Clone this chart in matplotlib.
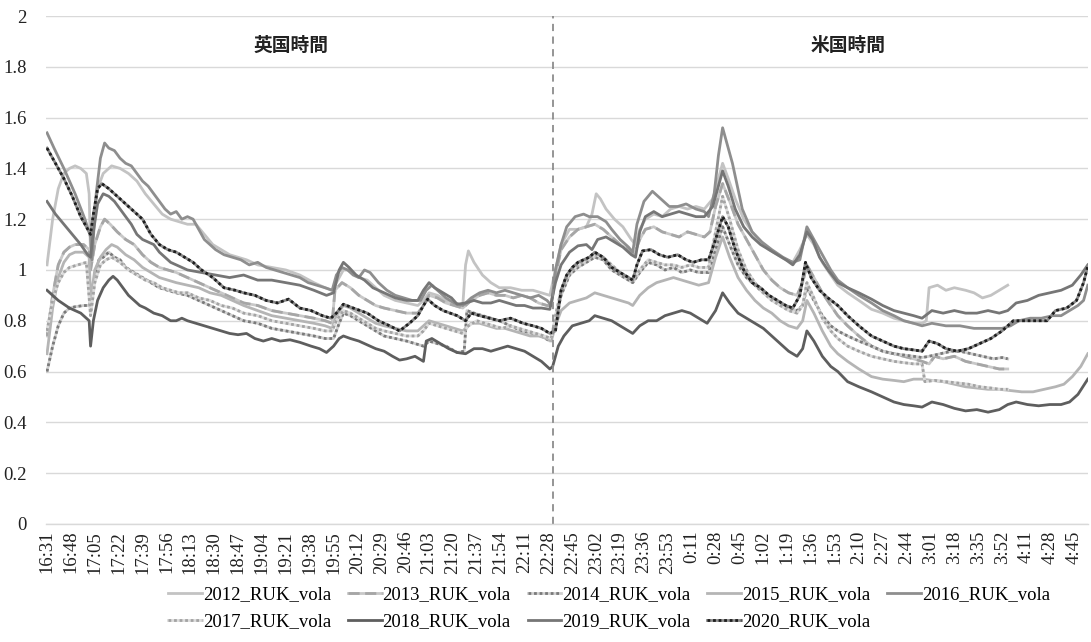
import matplotlib
matplotlib.use("Agg")
import matplotlib.pyplot as plt
import numpy as np

plt.rcParams['font.family'] = ['Liberation Serif', 'Noto Sans CJK JP', 'DejaVu Sans']

# category labels (one label every 17 minute bars)
tick_labels = ["16:31", "16:48", "17:05", "17:22", "17:39", "17:56", "18:13", "18:30",
               "18:47", "19:04", "19:21", "19:38", "19:55", "20:12", "20:29", "20:46",
               "21:03", "21:20", "21:37", "21:54", "22:11", "22:28", "22:45", "23:02",
               "23:19", "23:36", "23:53", "0:11", "0:28", "0:45", "1:02", "1:19",
               "1:36", "1:53", "2:10", "2:27", "2:44", "3:01", "3:18", "3:35",
               "3:52", "4:11", "4:28", "4:45"]
tick_step = 17
n_bars = 742
split_bar = 360   # UK / US session border

# (bar index, vola)
vola_2012 = [(0, 1.02), (4, 1.20), (8, 1.32), (12, 1.38), (16, 1.40), (20, 1.41), (24, 1.40), (28, 1.38),
             (30, 1.30), (31, 1.05), (33, 1.20), (36, 1.32), (40, 1.38), (46, 1.41), (52, 1.40), (58, 1.38),
             (64, 1.35), (70, 1.30), (76, 1.26), (82, 1.22), (88, 1.20), (94, 1.19), (100, 1.18), (106, 1.18),
             (112, 1.14), (118, 1.10), (124, 1.08), (130, 1.06), (136, 1.05), (142, 1.04), (150, 1.02),
             (160, 1.01), (170, 1.00), (180, 0.98), (190, 0.95), (198, 0.93), (203, 0.92), (206, 0.95),
             (211, 1.00), (216, 1.00), (222, 0.97), (228, 0.96), (234, 0.93), (240, 0.90), (248, 0.88),
             (256, 0.87), (264, 0.86), (268, 0.88), (272, 0.91), (278, 0.90), (284, 0.88), (290, 0.87),
             (296, 0.86), (298, 1.02), (300, 1.075), (304, 1.03), (310, 0.98), (316, 0.95), (322, 0.93),
             (330, 0.93), (338, 0.92), (346, 0.92), (352, 0.91), (358, 0.90), (362, 1.00), (366, 1.10),
             (372, 1.16), (378, 1.16), (384, 1.17), (388, 1.22), (391, 1.30), (394, 1.28), (398, 1.24),
             (404, 1.20), (410, 1.17), (416, 1.12), (419, 1.10), (422, 1.16), (426, 1.20), (432, 1.22),
             (438, 1.21), (444, 1.24), (450, 1.25), (456, 1.24), (462, 1.25), (468, 1.24), (474, 1.28),
             (478, 1.36), (481, 1.42), (485, 1.36), (490, 1.28), (496, 1.20), (502, 1.15), (508, 1.11),
             (514, 1.08), (520, 1.06), (526, 1.04), (531, 1.03), (536, 1.08), (541, 1.14), (546, 1.10),
             (552, 1.03), (558, 0.98), (563, 0.94), (570, 0.91), (578, 0.88), (587, 0.845), (595, 0.83),
             (603, 0.81), (610, 0.80), (617, 0.79), (623, 0.79), (626, 0.80), (628, 0.93), (634, 0.94),
             (640, 0.92), (646, 0.93), (654, 0.92), (660, 0.91), (666, 0.89), (672, 0.90), (678, 0.92),
             (684, 0.94)]

vola_2013 = [(0, 0.74), (4, 0.90), (8, 1.02), (12, 1.07), (16, 1.09), (20, 1.10), (26, 1.10), (30, 1.08),
             (31, 1.00), (34, 1.10), (38, 1.17), (41, 1.20), (45, 1.18), (50, 1.15), (56, 1.12), (62, 1.10),
             (68, 1.06), (74, 1.03), (80, 1.01), (86, 1.00), (92, 0.99), (100, 0.97), (108, 0.95), (116, 0.93),
             (124, 0.91), (132, 0.89), (140, 0.87), (150, 0.86), (160, 0.84), (170, 0.83), (180, 0.82),
             (190, 0.81), (198, 0.80), (203, 0.79), (205, 0.92), (210, 0.95), (216, 0.93), (222, 0.90),
             (228, 0.88), (234, 0.86), (240, 0.85), (248, 0.84), (256, 0.83), (264, 0.83), (268, 0.86),
             (272, 0.90), (278, 0.89), (284, 0.87), (290, 0.86), (296, 0.85), (302, 0.88), (308, 0.90),
             (314, 0.91), (320, 0.90), (326, 0.90), (332, 0.89), (338, 0.90), (344, 0.89), (350, 0.87),
             (356, 0.86), (359, 0.86), (362, 0.98), (366, 1.08), (372, 1.13), (378, 1.16), (384, 1.17),
             (390, 1.18), (396, 1.16), (402, 1.13), (408, 1.10), (414, 1.08), (418, 1.06), (422, 1.12),
             (426, 1.16), (432, 1.17), (438, 1.15), (444, 1.14), (450, 1.13), (456, 1.15), (462, 1.14),
             (468, 1.13), (472, 1.15), (476, 1.25), (481, 1.34), (486, 1.27), (492, 1.18), (498, 1.12),
             (504, 1.06), (510, 1.00), (516, 0.96), (522, 0.93), (528, 0.91), (534, 0.90), (538, 0.95),
             (541, 1.02), (546, 0.97), (552, 0.91), (558, 0.86), (563, 0.82), (570, 0.78), (578, 0.74),
             (587, 0.70), (595, 0.68), (603, 0.67), (610, 0.66), (617, 0.65), (623, 0.64), (628, 0.63),
             (632, 0.66), (638, 0.65), (646, 0.66), (654, 0.64), (662, 0.63), (670, 0.62), (678, 0.61),
             (684, 0.61)]

vola_2014 = [(0, 0.60), (4, 0.70), (8, 0.78), (12, 0.83), (16, 0.85), (20, 0.855), (26, 0.86), (30, 0.86),
             (32, 0.90), (34, 0.98), (37, 1.04), (40, 1.05), (44, 1.07), (48, 1.05), (52, 1.04), (56, 1.01),
             (62, 0.99), (68, 0.97), (74, 0.95), (80, 0.93), (86, 0.92), (92, 0.91), (100, 0.90), (108, 0.88),
             (116, 0.86), (124, 0.84), (132, 0.82), (140, 0.80), (150, 0.79), (160, 0.77), (170, 0.76),
             (180, 0.75), (190, 0.74), (198, 0.73), (204, 0.73), (208, 0.79), (211, 0.83), (216, 0.82),
             (222, 0.80), (228, 0.78), (234, 0.76), (240, 0.74), (248, 0.73), (256, 0.72), (262, 0.71),
             (268, 0.70), (272, 0.72), (278, 0.71), (284, 0.70), (292, 0.675), (297, 0.68), (299, 0.84),
             (304, 0.83), (310, 0.82), (316, 0.81), (322, 0.80), (330, 0.78), (338, 0.76), (346, 0.75),
             (352, 0.74), (358, 0.72), (362, 0.80), (366, 0.90), (372, 0.98), (378, 1.01), (384, 1.03),
             (390, 1.05), (396, 1.04), (402, 1.00), (408, 0.98), (414, 0.96), (417, 0.95), (422, 0.99),
             (428, 1.03), (434, 1.02), (440, 1.00), (446, 1.01), (452, 0.99), (458, 1.00), (464, 0.99),
             (471, 0.99), (476, 1.08), (481, 1.17), (486, 1.10), (492, 1.02), (498, 0.97), (504, 0.94),
             (510, 0.91), (516, 0.89), (522, 0.87), (528, 0.85), (534, 0.84), (538, 0.86), (541, 0.93),
             (546, 0.88), (552, 0.82), (558, 0.78), (563, 0.76), (570, 0.74), (578, 0.72), (587, 0.70),
             (595, 0.68), (603, 0.67), (610, 0.665), (617, 0.66), (623, 0.655), (628, 0.66), (636, 0.67),
             (644, 0.68), (650, 0.68), (658, 0.67), (666, 0.66), (674, 0.65), (680, 0.655), (684, 0.65)]

vola_2015 = [(0, 0.67), (4, 0.85), (8, 0.97), (12, 1.03), (16, 1.06), (20, 1.07), (26, 1.07), (30, 1.05),
             (31, 0.88), (34, 1.00), (38, 1.05), (42, 1.08), (46, 1.10), (50, 1.09), (56, 1.06), (62, 1.04),
             (68, 1.01), (74, 0.99), (80, 0.97), (86, 0.96), (92, 0.95), (100, 0.94), (108, 0.93), (116, 0.91),
             (124, 0.90), (132, 0.88), (140, 0.86), (150, 0.84), (160, 0.82), (170, 0.81), (180, 0.80),
             (190, 0.79), (198, 0.78), (203, 0.77), (206, 0.82), (211, 0.86), (216, 0.85), (222, 0.83),
             (228, 0.81), (234, 0.79), (240, 0.78), (248, 0.77), (256, 0.76), (264, 0.76), (268, 0.78),
             (272, 0.80), (278, 0.79), (284, 0.78), (290, 0.77), (296, 0.76), (302, 0.79), (308, 0.79),
             (314, 0.78), (320, 0.77), (326, 0.77), (332, 0.76), (338, 0.75), (344, 0.74), (350, 0.74),
             (356, 0.73), (359, 0.72), (362, 0.78), (366, 0.84), (372, 0.87), (378, 0.88), (384, 0.89),
             (390, 0.91), (396, 0.90), (402, 0.89), (408, 0.88), (414, 0.87), (417, 0.86), (422, 0.90),
             (428, 0.93), (434, 0.95), (440, 0.96), (446, 0.97), (452, 0.96), (458, 0.95), (464, 0.94),
             (471, 0.95), (476, 1.05), (481, 1.13), (486, 1.05), (492, 0.97), (498, 0.92), (504, 0.88),
             (510, 0.85), (516, 0.83), (522, 0.80), (528, 0.78), (534, 0.77), (538, 0.80), (541, 0.88),
             (546, 0.83), (552, 0.76), (558, 0.70), (563, 0.67), (570, 0.64), (578, 0.61), (587, 0.58),
             (595, 0.57), (603, 0.565), (610, 0.56), (617, 0.57), (623, 0.57), (630, 0.565), (638, 0.56),
             (646, 0.55), (654, 0.54), (662, 0.535), (670, 0.53), (678, 0.53), (686, 0.525), (694, 0.52),
             (702, 0.52), (710, 0.53), (718, 0.54), (724, 0.55), (730, 0.58), (736, 0.62), (741, 0.67)]

vola_2016 = [(0, 1.54), (5, 1.48), (12, 1.40), (20, 1.30), (27, 1.20), (31, 1.13), (32, 1.04), (35, 1.30),
             (38, 1.44), (41, 1.50), (44, 1.48), (48, 1.47), (52, 1.44), (56, 1.42), (60, 1.41), (64, 1.38),
             (68, 1.35), (72, 1.33), (76, 1.30), (80, 1.27), (84, 1.24), (88, 1.22), (92, 1.23), (96, 1.20),
             (100, 1.21), (104, 1.20), (108, 1.16), (112, 1.12), (116, 1.10), (120, 1.08), (126, 1.06),
             (132, 1.05), (138, 1.04), (144, 1.02), (150, 1.03), (156, 1.01), (162, 1.00), (168, 0.99),
             (174, 0.98), (180, 0.97), (186, 0.95), (192, 0.94), (198, 0.93), (203, 0.92), (206, 0.98),
             (210, 1.01), (214, 1.00), (218, 0.98), (222, 0.97), (226, 1.00), (230, 0.99), (236, 0.95),
             (242, 0.92), (248, 0.90), (254, 0.89), (260, 0.88), (266, 0.88), (270, 0.92), (274, 0.94),
             (278, 0.92), (284, 0.89), (290, 0.87), (296, 0.86), (302, 0.89), (308, 0.91), (314, 0.92),
             (320, 0.91), (326, 0.92), (332, 0.91), (338, 0.90), (344, 0.89), (350, 0.90), (356, 0.88),
             (359, 0.86), (362, 1.00), (366, 1.10), (370, 1.17), (376, 1.21), (382, 1.22), (386, 1.21),
             (392, 1.21), (398, 1.19), (402, 1.16), (408, 1.12), (414, 1.09), (417, 1.07), (420, 1.18),
             (425, 1.27), (431, 1.31), (437, 1.28), (443, 1.25), (449, 1.25), (455, 1.26), (462, 1.24),
             (468, 1.23), (471, 1.21), (475, 1.30), (478, 1.45), (481, 1.56), (484, 1.50), (488, 1.42),
             (495, 1.24), (502, 1.15), (509, 1.11), (516, 1.08), (524, 1.05), (531, 1.03), (536, 1.04),
             (541, 1.17), (546, 1.12), (552, 1.06), (558, 1.00), (563, 0.96), (570, 0.93), (578, 0.90),
             (587, 0.87), (595, 0.84), (603, 0.82), (610, 0.80), (617, 0.79), (623, 0.78), (630, 0.79),
             (640, 0.78), (650, 0.78), (660, 0.77), (670, 0.77), (680, 0.77), (686, 0.78), (692, 0.80),
             (700, 0.81), (708, 0.81), (716, 0.82), (722, 0.82), (728, 0.84), (734, 0.86), (738, 0.88),
             (741, 0.94)]

vola_2017 = [(0, 0.76), (4, 0.88), (8, 0.95), (12, 0.99), (16, 1.01), (22, 1.02), (28, 1.03), (31, 0.82),
             (34, 0.95), (38, 1.02), (42, 1.04), (46, 1.05), (52, 1.03), (58, 1.00), (64, 0.98), (70, 0.96),
             (76, 0.95), (82, 0.93), (88, 0.92), (94, 0.91), (100, 0.91), (108, 0.89), (116, 0.88), (124, 0.86),
             (132, 0.85), (140, 0.83), (150, 0.82), (160, 0.80), (170, 0.79), (180, 0.78), (190, 0.77),
             (198, 0.76), (203, 0.76), (206, 0.80), (211, 0.84), (216, 0.83), (222, 0.81), (228, 0.79),
             (234, 0.77), (240, 0.76), (248, 0.75), (256, 0.74), (264, 0.74), (268, 0.76), (272, 0.79),
             (278, 0.78), (284, 0.77), (290, 0.76), (296, 0.75), (300, 0.78), (306, 0.80), (312, 0.79),
             (318, 0.78), (324, 0.77), (330, 0.78), (336, 0.77), (342, 0.76), (348, 0.75), (354, 0.74),
             (359, 0.73), (362, 0.82), (366, 0.92), (372, 0.99), (378, 1.02), (384, 1.04), (390, 1.06),
             (396, 1.05), (402, 1.02), (408, 0.99), (414, 0.97), (417, 0.96), (422, 1.00), (428, 1.04),
             (434, 1.03), (440, 1.02), (446, 1.02), (452, 1.01), (458, 1.02), (464, 1.01), (471, 1.01),
             (476, 1.15), (481, 1.29), (486, 1.20), (492, 1.08), (498, 1.00), (504, 0.95), (510, 0.91),
             (516, 0.88), (522, 0.86), (528, 0.84), (534, 0.83), (538, 0.86), (541, 0.95), (546, 0.89),
             (552, 0.81), (558, 0.76), (563, 0.73), (570, 0.70), (578, 0.68), (587, 0.66), (595, 0.65),
             (603, 0.64), (610, 0.635), (617, 0.63), (623, 0.63), (625, 0.56), (632, 0.565), (640, 0.56),
             (648, 0.555), (656, 0.55), (664, 0.54), (672, 0.535), (678, 0.53), (684, 0.53)]

vola_2018 = [(0, 0.92), (8, 0.88), (16, 0.85), (24, 0.83), (30, 0.80), (31, 0.70), (33, 0.80), (36, 0.88),
             (40, 0.93), (44, 0.96), (47, 0.975), (50, 0.96), (54, 0.93), (58, 0.90), (62, 0.88), (66, 0.86),
             (70, 0.85), (76, 0.83), (82, 0.82), (88, 0.80), (92, 0.80), (96, 0.81), (100, 0.80), (106, 0.79),
             (112, 0.78), (118, 0.77), (124, 0.76), (130, 0.75), (136, 0.745), (142, 0.75), (148, 0.73),
             (154, 0.72), (160, 0.73), (166, 0.72), (173, 0.725), (180, 0.715), (188, 0.70), (194, 0.69),
             (199, 0.675), (204, 0.70), (208, 0.73), (211, 0.74), (216, 0.73), (222, 0.72), (228, 0.705),
             (234, 0.69), (240, 0.68), (246, 0.66), (251, 0.645), (256, 0.65), (262, 0.66), (268, 0.64),
             (270, 0.72), (274, 0.73), (280, 0.71), (286, 0.69), (292, 0.675), (298, 0.67), (304, 0.69),
             (310, 0.69), (316, 0.68), (322, 0.69), (328, 0.70), (334, 0.69), (340, 0.68), (346, 0.66),
             (352, 0.64), (358, 0.61), (360, 0.62), (364, 0.70), (368, 0.74), (374, 0.78), (380, 0.79),
             (386, 0.80), (390, 0.82), (396, 0.81), (402, 0.80), (408, 0.78), (414, 0.76), (417, 0.75),
             (422, 0.78), (428, 0.80), (434, 0.80), (440, 0.82), (446, 0.83), (452, 0.84), (458, 0.83),
             (464, 0.81), (470, 0.79), (476, 0.84), (481, 0.91), (486, 0.87), (492, 0.83), (498, 0.81),
             (504, 0.79), (510, 0.77), (516, 0.74), (522, 0.71), (528, 0.68), (534, 0.66), (538, 0.69),
             (541, 0.76), (546, 0.72), (552, 0.66), (558, 0.62), (563, 0.60), (570, 0.56), (578, 0.54),
             (587, 0.52), (595, 0.50), (603, 0.48), (610, 0.47), (617, 0.465), (623, 0.46), (630, 0.48),
             (638, 0.47), (646, 0.455), (654, 0.445), (662, 0.45), (670, 0.44), (678, 0.45), (684, 0.47),
             (690, 0.48), (698, 0.47), (706, 0.465), (714, 0.47), (722, 0.47), (728, 0.48), (734, 0.51),
             (741, 0.57)]

vola_2019 = [(0, 1.27), (6, 1.22), (12, 1.18), (18, 1.14), (24, 1.10), (29, 1.06), (31, 1.05), (33, 1.15),
             (36, 1.26), (40, 1.30), (44, 1.29), (48, 1.27), (52, 1.24), (56, 1.21), (60, 1.18), (64, 1.14),
             (68, 1.12), (72, 1.11), (76, 1.10), (80, 1.07), (84, 1.05), (88, 1.03), (92, 1.02), (96, 1.01),
             (100, 1.00), (110, 0.99), (120, 0.98), (130, 0.97), (140, 0.98), (150, 0.96), (160, 0.96),
             (170, 0.95), (180, 0.94), (190, 0.92), (199, 0.90), (204, 0.91), (208, 1.00), (211, 1.03),
             (215, 1.01), (220, 0.98), (226, 0.96), (232, 0.93), (240, 0.91), (248, 0.89), (256, 0.88),
             (264, 0.88), (268, 0.92), (272, 0.95), (276, 0.93), (282, 0.91), (288, 0.89), (292, 0.865),
             (298, 0.87), (304, 0.88), (310, 0.87), (316, 0.87), (322, 0.88), (328, 0.87), (334, 0.86),
             (340, 0.86), (346, 0.85), (352, 0.85), (358, 0.845), (362, 0.95), (366, 1.02), (372, 1.07),
             (378, 1.095), (384, 1.10), (388, 1.08), (392, 1.12), (398, 1.13), (404, 1.11), (410, 1.09),
             (416, 1.06), (419, 1.05), (422, 1.15), (426, 1.21), (432, 1.23), (438, 1.21), (444, 1.22),
             (450, 1.23), (456, 1.22), (462, 1.21), (468, 1.21), (474, 1.25), (478, 1.33), (481, 1.39),
             (485, 1.33), (490, 1.24), (496, 1.17), (502, 1.13), (508, 1.10), (514, 1.08), (520, 1.06),
             (526, 1.04), (531, 1.02), (536, 1.06), (541, 1.15), (545, 1.12), (550, 1.05), (556, 1.00),
             (563, 0.95), (570, 0.93), (578, 0.91), (587, 0.885), (595, 0.86), (603, 0.84), (610, 0.83),
             (617, 0.82), (623, 0.81), (630, 0.84), (638, 0.83), (646, 0.84), (654, 0.83), (662, 0.83),
             (670, 0.84), (678, 0.83), (684, 0.84), (690, 0.87), (698, 0.88), (706, 0.90), (714, 0.91),
             (722, 0.92), (730, 0.94), (736, 0.98), (741, 1.02)]

vola_2020 = [(0, 1.48), (6, 1.42), (12, 1.36), (18, 1.29), (24, 1.21), (29, 1.16), (31, 1.14), (33, 1.22),
             (36, 1.32), (39, 1.34), (44, 1.32), (50, 1.29), (56, 1.26), (62, 1.23), (68, 1.20), (74, 1.14),
             (80, 1.10), (86, 1.08), (92, 1.07), (98, 1.05), (104, 1.03), (110, 1.00), (118, 0.97),
             (126, 0.93), (134, 0.92), (140, 0.91), (148, 0.90), (156, 0.88), (164, 0.87), (172, 0.885),
             (180, 0.85), (188, 0.84), (196, 0.82), (202, 0.81), (206, 0.83), (211, 0.865), (218, 0.85),
             (228, 0.83), (236, 0.80), (244, 0.78), (251, 0.76), (258, 0.79), (264, 0.82), (268, 0.86),
             (271, 0.885), (276, 0.86), (282, 0.84), (292, 0.82), (298, 0.80), (302, 0.83), (308, 0.82),
             (315, 0.81), (322, 0.80), (330, 0.81), (339, 0.79), (346, 0.78), (352, 0.77), (358, 0.75),
             (362, 0.76), (366, 0.92), (370, 0.98), (374, 1.01), (378, 1.03), (382, 1.04), (386, 1.05),
             (390, 1.07), (396, 1.05), (402, 1.01), (408, 0.99), (414, 0.97), (417, 0.96), (420, 1.02),
             (424, 1.075), (430, 1.08), (436, 1.06), (442, 1.05), (449, 1.06), (455, 1.04), (460, 1.03),
             (466, 1.04), (471, 1.04), (476, 1.12), (481, 1.21), (485, 1.17), (490, 1.08), (496, 1.00),
             (502, 0.95), (508, 0.93), (514, 0.90), (520, 0.88), (526, 0.86), (531, 0.85), (536, 0.90),
             (540, 1.03), (544, 0.97), (550, 0.92), (556, 0.89), (563, 0.86), (570, 0.82), (578, 0.78),
             (587, 0.74), (595, 0.72), (603, 0.70), (610, 0.69), (617, 0.685), (623, 0.68), (628, 0.72),
             (634, 0.71), (640, 0.69), (648, 0.68), (656, 0.69), (664, 0.71), (672, 0.73), (680, 0.76),
             (688, 0.80), (696, 0.80), (704, 0.80), (712, 0.80), (718, 0.84), (726, 0.85), (733, 0.88),
             (738, 0.95), (741, 1.015)]

series = [
    ("2012_RUK_vola", vola_2012),
    ("2013_RUK_vola", vola_2013),
    ("2014_RUK_vola", vola_2014),
    ("2015_RUK_vola", vola_2015),
    ("2016_RUK_vola", vola_2016),
    ("2017_RUK_vola", vola_2017),
    ("2018_RUK_vola", vola_2018),
    ("2019_RUK_vola", vola_2019),
    ("2020_RUK_vola", vola_2020),
]

# (base colour, overlay colour or None, overlay dash pattern)
styles = {
    "2012_RUK_vola": ('#c3c3c3', None, None),
    "2013_RUK_vola": ('#c8c8c8', '#a6a6a6', (0, (4, 2))),
    "2014_RUK_vola": ('#cfcfcf', '#7a7a7a', (0, (1, 1))),
    "2015_RUK_vola": ('#b5b5b5', None, None),
    "2016_RUK_vola": ('#8e8e8e', None, None),
    "2017_RUK_vola": ('#dcdcdc', '#a3a3a3', (0, (1, 1))),
    "2018_RUK_vola": ('#5e5e5e', None, None),
    "2019_RUK_vola": ('#767676', None, None),
    "2020_RUK_vola": ('#8a8a8a', '#1e1e1e', (0, (1, 1))),
}

fig = plt.figure(figsize=(10.91, 6.42), dpi=100)
ax = fig.add_axes([0.0422, 0.184, 0.9555, 0.791])

lw = 2.0
handles = {}
for name, pts in series:
    arr = np.array(pts)
    base, over, dash = styles[name]
    h1, = ax.plot(arr[:, 0], arr[:, 1], color=base, lw=lw, solid_joinstyle='round')
    if over is None:
        handles[name] = h1
    else:
        h2, = ax.plot(arr[:, 0], arr[:, 1], color=over, lw=lw, ls=dash)
        handles[name] = (h1, h2)

ax.axvline(split_bar, color='#8c8c8c', lw=1.3, ls=(0, (4, 3)))

ax.text(174, 1.885, "英国時間", ha='center', va='center', fontsize=13.5,
        family=['Noto Sans CJK JP'], weight='bold', color='#222222')
ax.text(570, 1.885, "米国時間", ha='center', va='center', fontsize=13.5,
        family=['Noto Sans CJK JP'], weight='bold', color='#222222')

ax.set_ylim(0, 2)
ax.set_yticks(np.arange(0, 2.01, 0.2))
ax.set_yticklabels(["0", "0.2", "0.4", "0.6", "0.8", "1", "1.2", "1.4", "1.6", "1.8", "2"])
ax.set_xlim(-0.7, n_bars - 0.5)
ax.set_xticks(np.arange(len(tick_labels)) * tick_step)
ax.set_xticklabels(tick_labels, rotation=90)
ax.tick_params(axis='both', length=0, labelsize=13.5, colors='#222222')
ax.tick_params(axis='y', pad=14)
ax.tick_params(axis='x', pad=5)

ax.grid(axis='y', color='#d9d9d9', lw=1)
ax.set_axisbelow(True)
for s in ['top', 'right', 'left']:
    ax.spines[s].set_visible(False)
ax.spines['bottom'].set_color('#d9d9d9')
ax.spines['bottom'].set_linewidth(1)

# column-major fill: row 1 = 2012..2016, row 2 = 2017..2020
order = ["2012_RUK_vola", "2017_RUK_vola", "2013_RUK_vola", "2018_RUK_vola", "2014_RUK_vola",
         "2019_RUK_vola", "2015_RUK_vola", "2020_RUK_vola", "2016_RUK_vola"]
fig.legend([handles[k] for k in order], order, ncol=5, loc='upper left',
           bbox_to_anchor=(168 / 1091, 1 - 586 / 642), frameon=False, fontsize=13.5,
           handlelength=1.8, handletextpad=0.05, columnspacing=0.9, labelspacing=0.55,
           borderaxespad=0, borderpad=0)

fig.savefig("out.png", dpi=100)
